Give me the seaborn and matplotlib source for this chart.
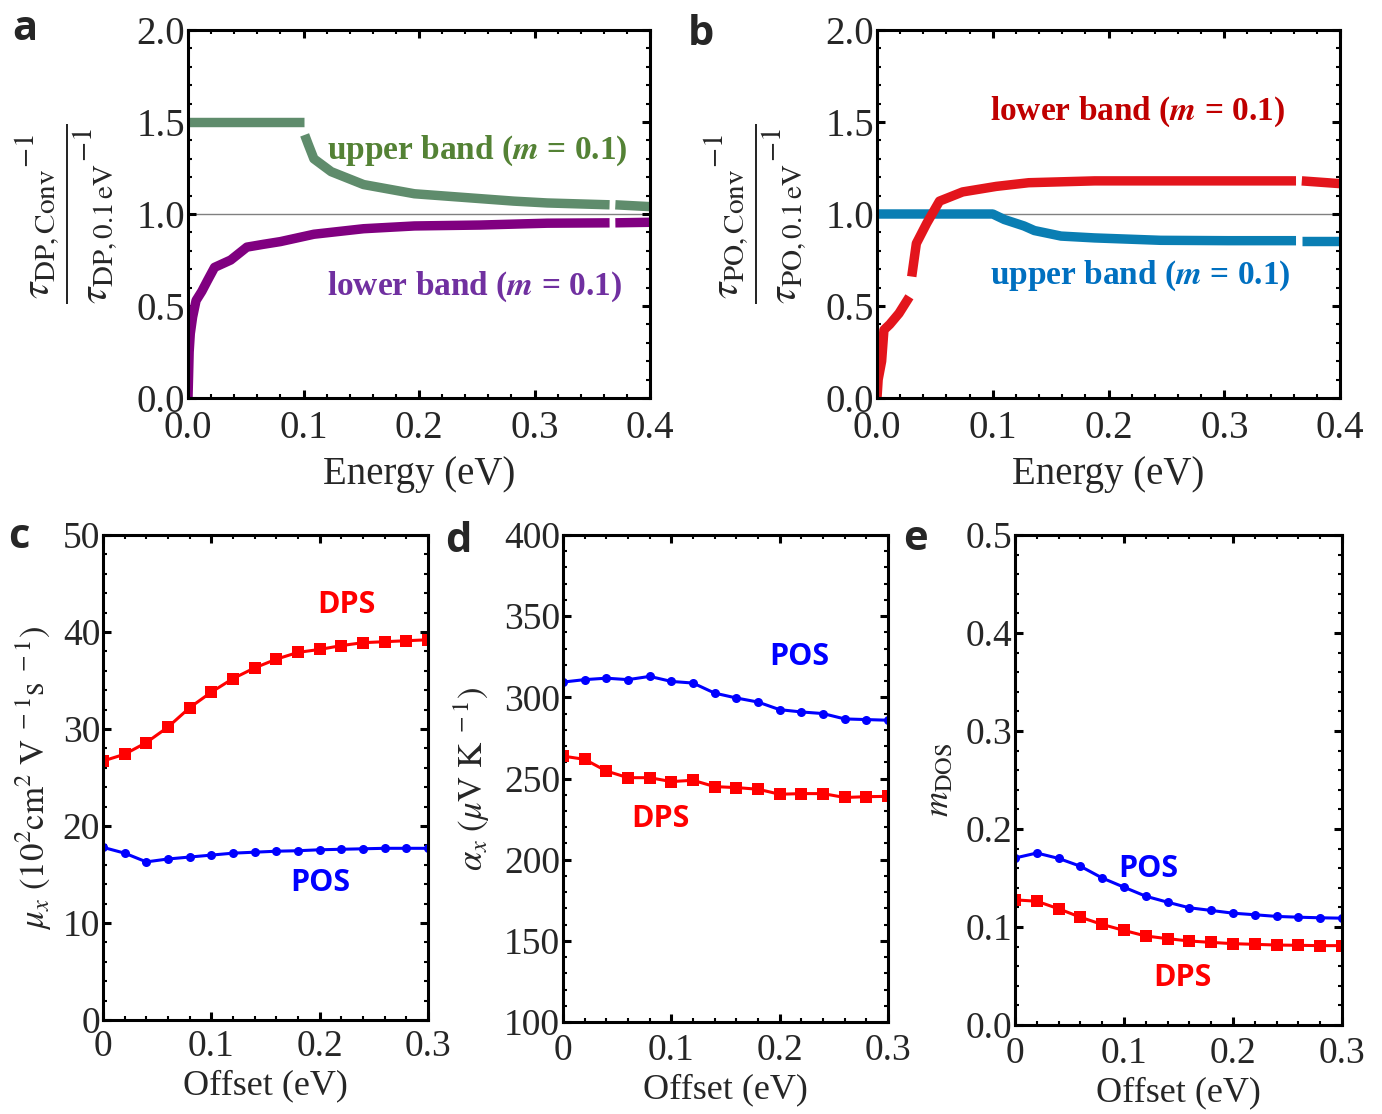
import numpy as np
import pandas as pd
import matplotlib
matplotlib.use("Agg")
import matplotlib.pyplot as plt
import seaborn as sns
from matplotlib.ticker import MultipleLocator

sns.set_theme(style="white")
plt.rcParams['font.family'] = ['Liberation Serif', 'DejaVu Serif']
plt.rcParams['mathtext.fontset'] = 'stix'

# ---- panel a: DP scattering ratio ----
a_upper_E = [[0.0, 0.1],
             [0.101, 0.104, 0.109, 0.124, 0.152, 0.196, 0.239, 0.282, 0.311, 0.365],
             [0.370, 0.400]]
a_upper_r = [[1.5, 1.5],
             [1.43, 1.38, 1.30, 1.23, 1.16, 1.11, 1.09, 1.07, 1.06, 1.05],
             [1.05, 1.04]]
a_lower_E = [[0.0, 0.0005, 0.001, 0.002, 0.004, 0.007, 0.012, 0.017, 0.023, 0.030,
              0.037, 0.051, 0.065, 0.080, 0.109, 0.152, 0.196, 0.253, 0.311, 0.365],
             [0.370, 0.400]]
a_lower_r = [[0.0, 0.12, 0.25, 0.35, 0.44, 0.53, 0.58, 0.64, 0.71, 0.73,
              0.75, 0.82, 0.835, 0.85, 0.89, 0.92, 0.935, 0.94, 0.95, 0.952],
             [0.952, 0.955]]

# ---- panel b: PO scattering ratio ----
b_lower_E = [[0.0, 0.001, 0.004, 0.006, 0.011, 0.019, 0.028],
             [0.030, 0.034, 0.043, 0.054, 0.074, 0.103, 0.131, 0.188, 0.275, 0.362],
             [0.367, 0.400]]
b_lower_r = [[0.0, 0.10, 0.20, 0.37, 0.40, 0.46, 0.55],
             [0.66, 0.84, 0.95, 1.07, 1.12, 1.15, 1.17, 1.18, 1.18, 1.18],
             [1.18, 1.165]]
b_upper_E = [[0.0, 0.1, 0.110, 0.127, 0.136, 0.159, 0.188, 0.245, 0.303, 0.362],
             [0.367, 0.400]]
b_upper_r = [[1.0, 1.0, 0.97, 0.935, 0.91, 0.88, 0.87, 0.857, 0.855, 0.855],
             [0.855, 0.855]]

# ---- panels c-e: vs offset ----
offset = [0.0, 0.02, 0.04, 0.06, 0.08, 0.10, 0.12, 0.14, 0.16, 0.18, 0.20,
          0.22, 0.24, 0.26, 0.28, 0.30]
mu_dps = [26.7, 27.4, 28.6, 30.2, 32.2, 33.8, 35.2, 36.3, 37.2, 37.9, 38.2,
          38.6, 38.9, 39.0, 39.1, 39.2]
mu_pos = [17.8, 17.2, 16.3, 16.6, 16.8, 17.0, 17.2, 17.3, 17.4, 17.45, 17.55,
          17.6, 17.65, 17.7, 17.7, 17.7]
alpha_pos = [309.4, 310.9, 311.8, 310.9, 312.9, 309.8, 308.8, 302.6, 299.6, 297.1,
             292.4, 291.0, 290.0, 286.7, 286.3, 285.9]
alpha_dps = [263.8, 261.8, 254.6, 250.5, 250.5, 248.1, 248.9, 245.0, 244.4, 243.4,
             240.3, 240.7, 240.7, 238.3, 238.8, 239.0]
mdos_pos = [0.1704, 0.1755, 0.170, 0.162, 0.150, 0.1406, 0.1314, 0.1253, 0.1196,
            0.1169, 0.1141, 0.1125, 0.1108, 0.110, 0.1094, 0.109]
mdos_dps = [0.1277, 0.1263, 0.1186, 0.110, 0.1026, 0.0965, 0.0908, 0.0881, 0.0857,
            0.0843, 0.083, 0.0823, 0.0816, 0.0813, 0.081, 0.081]

W, H = 1382, 1114
fig = plt.figure(figsize=(W / 100, H / 100), dpi=100)


def px_axes(l, t, r, b):
    return fig.add_axes([l / W, 1 - b / H, (r - l) / W, (b - t) / H])


def style_axes(ax, xmaj, xmin, ymaj, ymin, fs, xpad):
    for s in ax.spines.values():
        s.set_visible(True)
        s.set_color('black')
        s.set_linewidth(2.2)
    ax.xaxis.set_major_locator(MultipleLocator(xmaj))
    ax.xaxis.set_minor_locator(MultipleLocator(xmin))
    ax.yaxis.set_major_locator(MultipleLocator(ymaj))
    ax.yaxis.set_minor_locator(MultipleLocator(ymin))
    ax.tick_params(which='both', direction='in', top=True, right=True,
                   bottom=True, left=True, color='black')
    ax.tick_params(which='major', length=6, width=2.2, labelsize=fs)
    ax.tick_params(which='minor', length=3, width=1.5)
    ax.tick_params(axis='x', which='major', pad=xpad)
    ax.tick_params(axis='y', which='major', pad=2)
    ax.grid(False)
    ax.set_facecolor('white')


def band_segments(ax, Es, rs, color):
    for E, r in zip(Es, rs):
        sns.lineplot(x=E, y=r, ax=ax, color=color, lw=6.8, sort=False,
                     estimator=None, solid_capstyle='butt')


def frac_label(kind):
    return (r'$\dfrac{\tau_{\mathrm{%s,Conv}}{}^{-1}}{\tau_{\mathrm{%s,0.1\,eV}}{}^{-1}}$'
            % (kind, kind))


# panel a
ax_a = px_axes(188, 30, 650, 398)
ax_a.axhline(1.0, color='gray', lw=1.0, zorder=0)
band_segments(ax_a, a_upper_E, a_upper_r, '#5f8c6c')
band_segments(ax_a, a_lower_E, a_lower_r, '#800080')
ax_a.set_xlim(0, 0.4)
ax_a.set_ylim(0, 2.0)
style_axes(ax_a, 0.1, 0.02, 0.5, 0.1, 28, 9)
ax_a.xaxis.set_major_formatter(lambda v, p: f'{v:.1f}')
ax_a.yaxis.set_major_formatter(lambda v, p: f'{v:.1f}')
ax_a.set_xlabel('Energy (eV)', fontsize=28, labelpad=6)
ax_a.set_ylabel(frac_label('DP'), fontsize=30)
ax_a.yaxis.set_label_coords(-0.15, 0.5)
ax_a.text(0.12, 1.30, r'upper band ($\boldsymbol{m}$ = 0.1)', color='#548235',
          fontsize=24, fontweight='bold')
ax_a.text(0.12, 0.56, r'lower band ($\boldsymbol{m}$ = 0.1)', color='#7030a0',
          fontsize=24, fontweight='bold')

# panel b
ax_b = px_axes(877, 30, 1340, 398)
ax_b.axhline(1.0, color='gray', lw=1.0, zorder=0)
band_segments(ax_b, b_upper_E, b_upper_r, '#0a7eb3')
band_segments(ax_b, b_lower_E, b_lower_r, '#e3151c')
ax_b.set_xlim(0, 0.4)
ax_b.set_ylim(0, 2.0)
style_axes(ax_b, 0.1, 0.02, 0.5, 0.1, 28, 9)
ax_b.xaxis.set_major_formatter(lambda v, p: f'{v:.1f}')
ax_b.yaxis.set_major_formatter(lambda v, p: f'{v:.1f}')
ax_b.set_xlabel('Energy (eV)', fontsize=28, labelpad=6)
ax_b.set_ylabel(frac_label('PO'), fontsize=30)
ax_b.yaxis.set_label_coords(-0.15, 0.5)
ax_b.text(0.098, 1.51, r'lower band ($\boldsymbol{m}$ = 0.1)', color='#c00000',
          fontsize=24, fontweight='bold')
ax_b.text(0.098, 0.62, r'upper band ($\boldsymbol{m}$ = 0.1)', color='#0070c0',
          fontsize=24, fontweight='bold')


def offset_panel(ax, red, blue):
    sns.lineplot(x=offset, y=red, ax=ax, color='#ff0000', lw=2.2, marker='s',
                 markersize=9, markeredgewidth=0, estimator=None)
    sns.lineplot(x=offset, y=blue, ax=ax, color='#0000ff', lw=2.2, marker='o',
                 markersize=6.5, markeredgewidth=0, estimator=None)
    ax.set_xlim(0, 0.3)
    ax.set_xlabel('Offset (eV)', fontsize=26, labelpad=4)


def zero_fmt(v, p):
    return '0' if abs(v) < 1e-9 else f'{v:.1f}'


lab_font = dict(family=['Open Sans', 'DejaVu Sans'], fontweight='bold', fontsize=22)

# panel c
ax_c = px_axes(103, 535, 428, 1020)
offset_panel(ax_c, mu_dps, mu_pos)
ax_c.set_ylim(0, 50)
style_axes(ax_c, 0.1, 0.02, 10, 2, 27, 7)
ax_c.xaxis.set_major_formatter(zero_fmt)
ax_c.set_ylabel(r'$\mu_x\ (10^2\mathrm{cm}^2\ \mathrm{V}^{\ -1}\mathrm{s}^{\ -1})$', fontsize=25)
ax_c.yaxis.set_label_coords(-0.15, 0.5)
ax_c.text(0.198, 42.0, 'DPS', color='#ff0000', **lab_font)
ax_c.text(0.173, 13.3, 'POS', color='#0000ff', **lab_font)

# panel d
ax_d = px_axes(563, 535, 888, 1022)
offset_panel(ax_d, alpha_dps, alpha_pos)
ax_d.set_ylim(100, 400)
style_axes(ax_d, 0.1, 0.02, 50, 10, 27, 8)
ax_d.xaxis.set_major_formatter(zero_fmt)
ax_d.set_ylabel(r'$\alpha_x\ (\mu\mathrm{V\ K}^{\ -1})$', fontsize=25)
ax_d.yaxis.set_label_coords(-0.22, 0.5)
ax_d.text(0.19, 320, 'POS', color='#0000ff', **lab_font)
ax_d.text(0.063, 220, 'DPS', color='#ff0000', **lab_font)

# panel e
ax_e = px_axes(1015, 535, 1342, 1025)
offset_panel(ax_e, mdos_dps, mdos_pos)
ax_e.set_ylim(0, 0.5)
style_axes(ax_e, 0.1, 0.02, 0.1, 0.02, 27, 8)
ax_e.xaxis.set_major_formatter(zero_fmt)
ax_e.yaxis.set_major_formatter(lambda v, p: f'{v:.1f}')
ax_e.set_ylabel(r'$m_{\mathrm{DOS}}$', fontsize=25)
ax_e.yaxis.set_label_coords(-0.18, 0.5)
ax_e.text(0.095, 0.151, 'POS', color='#0000ff', **lab_font)
ax_e.text(0.127, 0.040, 'DPS', color='#ff0000', **lab_font)

# panel letters
letter_font = dict(family=['Open Sans', 'DejaVu Sans'], fontweight='bold', fontsize=30)
for x, y, s in [(12, 40, 'a'), (688, 45, 'b'), (8, 548, 'c'), (445, 552, 'd'), (903, 550, 'e')]:
    fig.text(x / W, 1 - y / H, s, **letter_font)

fig.savefig('out.png', dpi=100, facecolor='white')
